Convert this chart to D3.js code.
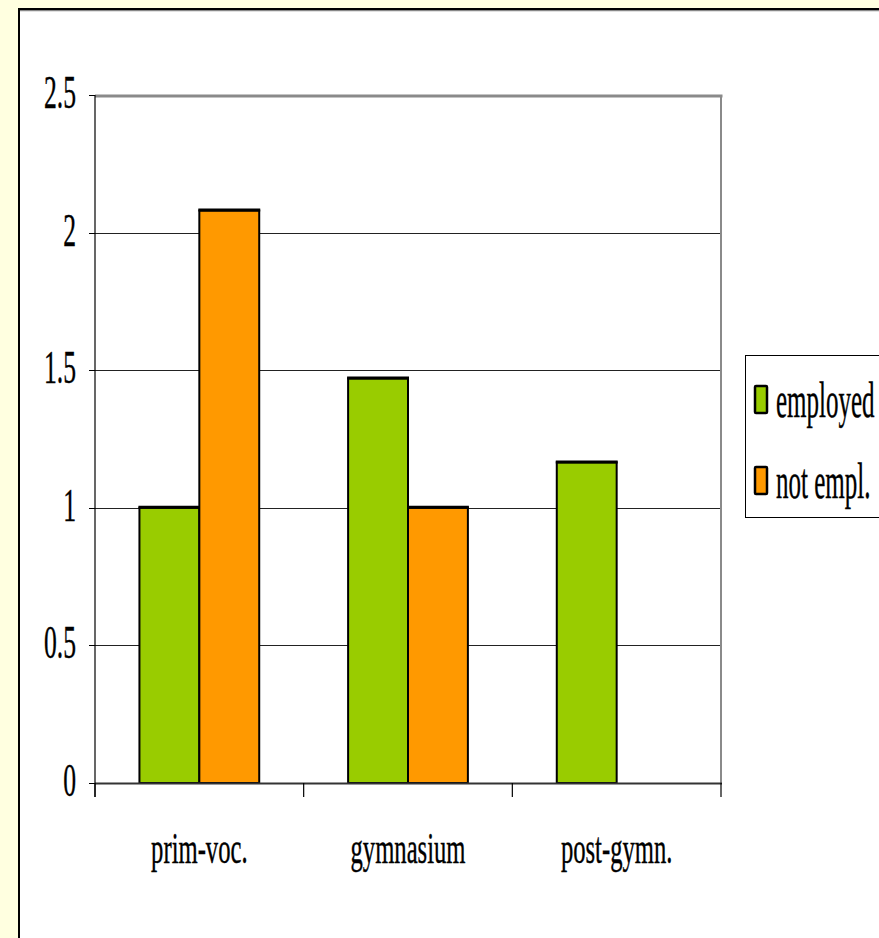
<!DOCTYPE html>
<html><head><meta charset="utf-8">
<script src="https://cdn.jsdelivr.net/npm/d3@7"></script>
<style>html,body{margin:0;padding:0;background:#ffffe0;overflow:hidden}
svg text{font-family:"Liberation Serif","Times New Roman","DejaVu Serif",serif;}</style>
</head><body>
<svg id="c" width="879" height="938"></svg>
<script>
const categories = ["prim-voc.", "gymnasium", "post-gymn."];
const seriesNames = ["employed", "not empl."];
const employed = [1.0, 1.47, 1.165];
const notEmployed = [2.08, 1.0, null];
const yTicks = [0, 0.5, 1, 1.5, 2, 2.5];
const yTickLabels = ["0", "0.5", "1", "1.5", "2", "2.5"];
const colors = ["#99cc00", "#ff9900"];

const svg = d3.select("#c");

// white panel
svg.append("rect").attr("x", 19).attr("y", 9).attr("width", 900).attr("height", 1000)
  .attr("fill", "#fff");
svg.append("line").attr("x1", 19).attr("x2", 879).attr("y1", 10.5).attr("y2", 10.5).attr("stroke", "#888").attr("stroke-width", 1.5);
svg.append("line").attr("x1", 19).attr("x2", 879).attr("y1", 9).attr("y2", 9).attr("stroke", "#000").attr("stroke-width", 2);
svg.append("line").attr("x1", 19).attr("x2", 19).attr("y1", 8).attr("y2", 938).attr("stroke", "#000").attr("stroke-width", 2);

const L = 95, R = 721, T = 95, B = 783;
const x0 = d3.scaleBand().domain(categories).range([L, R]).padding(0);
const x1 = d3.scaleBand().domain(seriesNames).range([0, x0.bandwidth()]).paddingInner(0).paddingOuter(0.742);
const y = d3.scaleLinear().domain([0, 2.5]).range([B, T]);

// gridlines
svg.append("g").selectAll("line").data(yTicks.filter(d => d > 0 && d < 2.5)).join("line")
  .attr("x1", L).attr("x2", R).attr("y1", d => Math.round(y(d)) + 0.5).attr("y2", d => Math.round(y(d)) + 0.5)
  .attr("stroke", "#222").attr("stroke-width", 1);

// plot border top/right grey
svg.append("line").attr("x1", L).attr("x2", R + 1.5).attr("y1", T + 1).attr("y2", T + 1).attr("stroke", "#8a8a8a").attr("stroke-width", 3);
svg.append("line").attr("x1", R).attr("x2", R).attr("y1", T).attr("y2", B).attr("stroke", "#8a8a8a").attr("stroke-width", 2);

// bars
const rows = categories.map((c, i) => ({cat: c, vals: [employed[i], notEmployed[i]]}));
const g = svg.append("g").selectAll("g").data(rows).join("g")
  .attr("transform", d => `translate(${x0(d.cat)},0)`);
const bars = g.selectAll("g").data(d => d.vals.map((v, j) => ({s: seriesNames[j], v, j})).filter(e => e.v != null)).join("g");
bars.append("rect")
  .attr("x", d => x1(d.s)).attr("width", x1.bandwidth())
  .attr("y", d => y(d.v)).attr("height", d => B - y(d.v))
  .attr("fill", d => colors[d.j]).attr("stroke", "#000").attr("stroke-width", 2);
bars.append("line")
  .attr("x1", d => x1(d.s) - 1).attr("x2", d => x1(d.s) + x1.bandwidth() + 1)
  .attr("y1", d => y(d.v) - 0.5).attr("y2", d => y(d.v) - 0.5)
  .attr("stroke", "#000").attr("stroke-width", 3);

// axes
svg.append("line").attr("x1", L).attr("x2", R + 1).attr("y1", B + 0.5).attr("y2", B + 0.5).attr("stroke", "#333").attr("stroke-width", 2);
svg.append("line").attr("x1", L).attr("x2", L).attr("y1", T).attr("y2", B + 14).attr("stroke", "#000").attr("stroke-width", 1.2);
// y ticks
svg.append("g").selectAll("line").data(yTicks).join("line")
  .attr("x1", 89).attr("x2", L).attr("y1", d => Math.round(y(d)) + 0.5).attr("y2", d => Math.round(y(d)) + 0.5)
  .attr("stroke", "#000").attr("stroke-width", 1);
// x ticks
const xEdges = categories.map(c => x0(c)).concat([R]);
svg.append("g").selectAll("line").data(xEdges).join("line")
  .attr("x1", d => d).attr("x2", d => d).attr("y1", B).attr("y2", B + 14)
  .attr("stroke", "#000").attr("stroke-width", 1.2);

// y labels
svg.append("g").selectAll("text").data(yTicks).join("text")
  .attr("transform", d => `translate(76,${y(d) + 13}) scale(0.557,1)`)
  .attr("text-anchor", "end").attr("font-size", 46).attr("fill", "#000")
  .attr("stroke", "#000").attr("stroke-width", 0.4)
  .text((d, i) => yTickLabels[i]);

// x labels
svg.append("g").selectAll("text").data(categories).join("text")
  .attr("transform", d => `translate(${x0(d) + x0.bandwidth() / 2},863) scale(0.56,1)`)
  .attr("text-anchor", "middle").attr("font-size", 44).attr("fill", "#000")
  .attr("stroke", "#000").attr("stroke-width", 0.4)
  .text(d => d);

// legend
const lg = svg.append("g");
lg.append("rect").attr("x", 745.5).attr("y", 355.5).attr("width", 200).attr("height", 162)
  .attr("fill", "#fff").attr("stroke", "#000").attr("stroke-width", 1);
const li = lg.selectAll("g").data(seriesNames).join("g")
  .attr("transform", (d, i) => `translate(0,${i * 81})`);
li.append("rect").attr("x", 755).attr("y", 386).attr("width", 12).attr("height", 27)
  .attr("fill", (d, i) => colors[i]).attr("stroke", "#000").attr("stroke-width", 2.5).attr("rx", 1);
li.append("text").attr("transform", `translate(776,417) scale(0.5,1)`)
  .attr("font-size", 50).attr("fill", "#000")
  .attr("stroke", "#000").attr("stroke-width", 0.4).text(d => d);
</script>
</body></html>
